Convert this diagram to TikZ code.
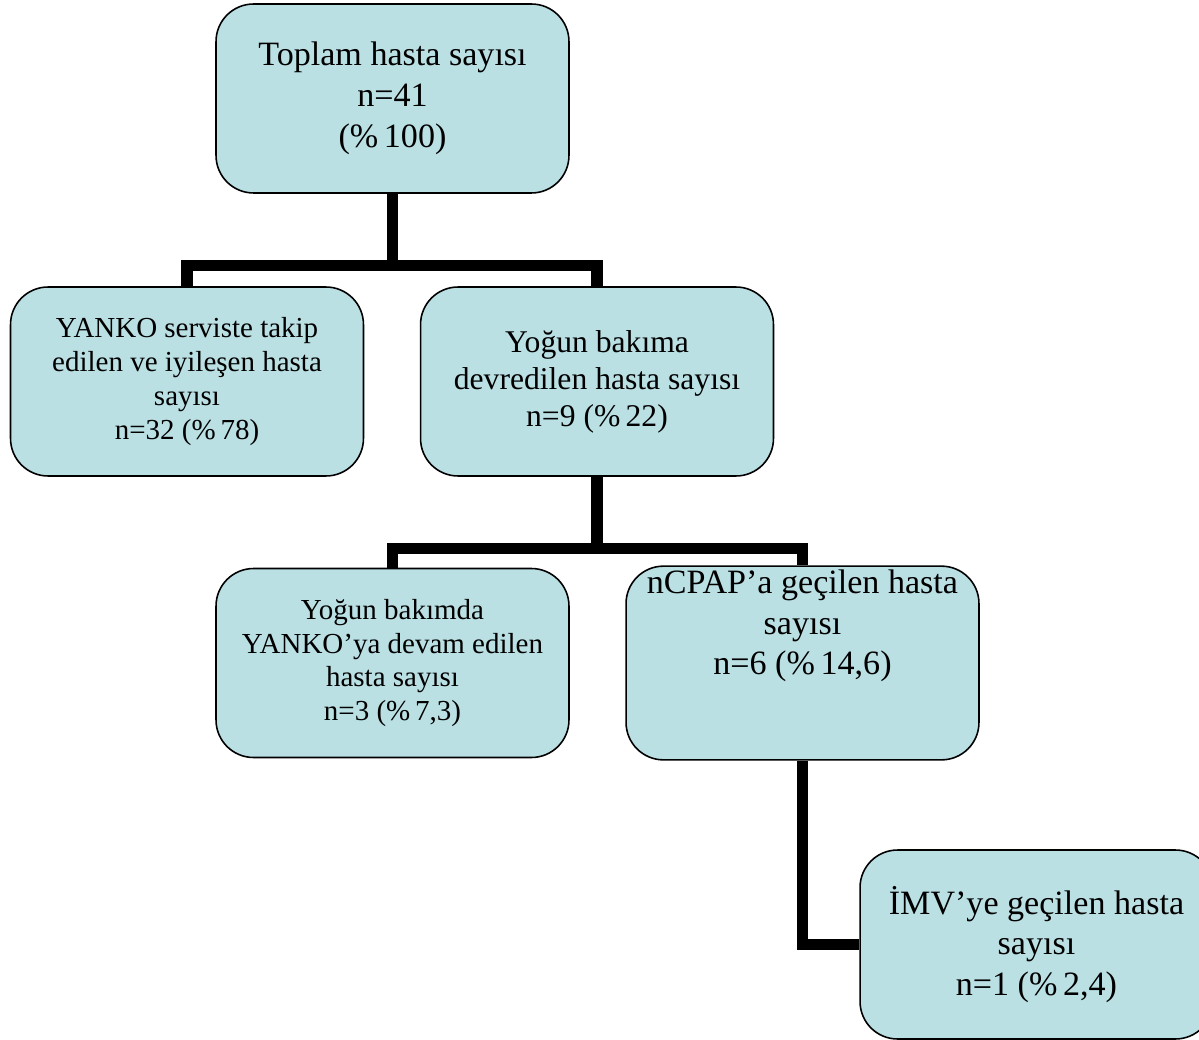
\documentclass[tikz,border=0pt]{standalone}
\usepackage{fontspec}
\setmainfont{Liberation Serif}
\definecolor{boxblue}{RGB}{186,224,228}

\begin{document}
\begin{tikzpicture}[x=0.02cm, y=-0.02cm]
\tikzstyle{box} = [draw=black, line width=0.9pt, fill=boxblue, rounded corners=0.75cm, minimum width=7.06cm, minimum height=3.78cm, align=center, inner sep=2pt]
\tikzstyle{link} = [draw=black, line width=6.4pt]
\tikzstyle{big} = [font=\fontsize{19.4}{23.2}\selectfont]
\tikzstyle{mid} = [font=\fontsize{18}{21}\selectfont]
\tikzstyle{small} = [font=\fontsize{16.5}{19.3}\selectfont]

\useasboundingbox (0,0) rectangle (1199,1040);

\node[box, big] (total) at (392.5,98.5) {Toplam hasta sayısı\\ n=41\\ (\%\,100)};
\node[box, small] (ward) at (187,381.5) {YANKO serviste takip\\ edilen ve iyileşen hasta\\ sayısı\\ n=32 (\%\,78)};
\node[box, mid] (icu) at (597,381.5) {Yoğun bakıma\\ devredilen hasta sayısı\\ n=9 (\%\,22)};
\node[box, small] (icuyanko) at (392.5,663) {Yoğun bakımda\\ YANKO’ya devam edilen\\ hasta sayısı\\ n=3 (\%\,7,3)};
\node[box, big] (ncpap) at (802.5,663) {nCPAP’a geçilen hasta\\ sayısı\\ n=6 (\%\,14,6)\\ ~\\ ~};
\node[box, big] (imv) at (1036.5,944.5) {İMV’ye geçilen hasta\\ sayısı\\ n=1 (\%\,2,4)};

\draw[link] (total.south) -- ++(0,72) -| (ward.north);
\draw[link] (total.south) -- ++(0,72) -| (icu.north);
\draw[link] (icu.south) -- ++(0,71.5) -| (icuyanko.north);
\draw[link] (icu.south) -- ++(0,71.5) -| (ncpap.north);
\draw[link] (ncpap.south) |- (imv.west);
\end{tikzpicture}
\end{document}
